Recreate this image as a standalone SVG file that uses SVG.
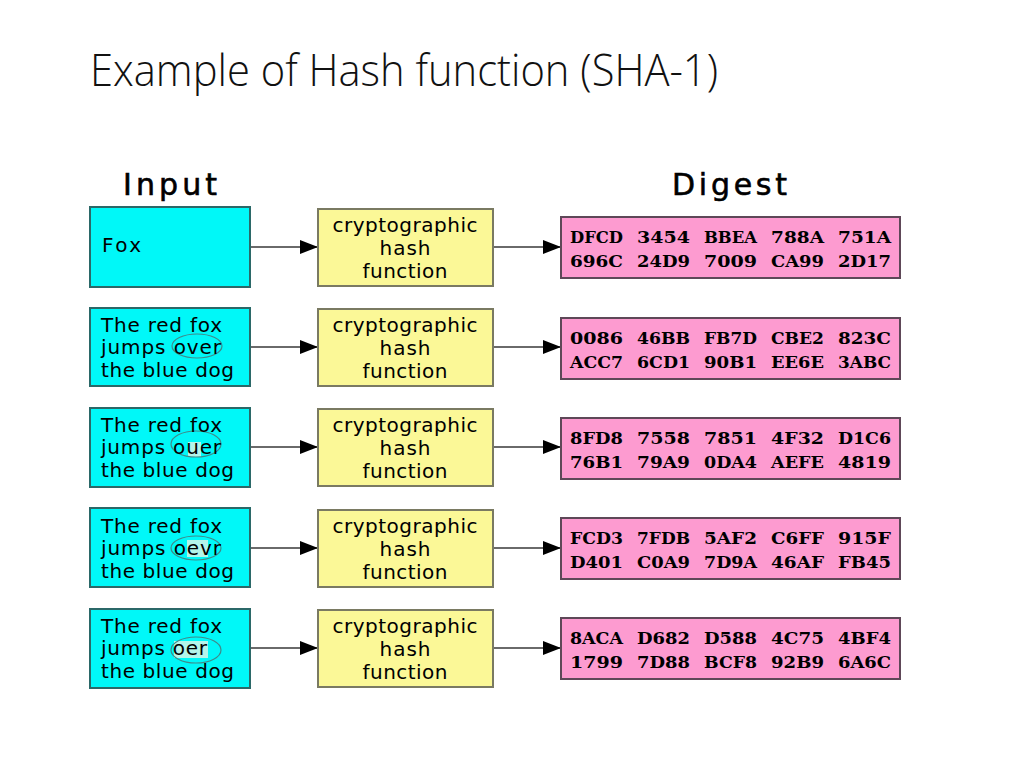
<svg xmlns="http://www.w3.org/2000/svg" width="1024" height="768" viewBox="0 0 1024 768">
<defs>
<style>
.title{font-family:"Open Sans","Liberation Sans",sans-serif;font-weight:300;font-size:44px;fill:#111}
.head{font-family:"DejaVu Sans","Open Sans",sans-serif;font-weight:normal;font-size:30px;fill:#000;stroke:#000;stroke-width:0.6}
.inbox{fill:#00f8f8;stroke:#2b6868;stroke-width:2}
.hashbox{fill:#fbf897;stroke:#7a7a62;stroke-width:2}
.digbox{fill:#fd9bd0;stroke:#5e4858;stroke-width:2}
.t{font-family:"DejaVu Sans","Open Sans",sans-serif;font-size:20px;fill:#000}
.c{text-anchor:middle}
.d{font-family:"DejaVu Serif","Liberation Serif",serif;font-weight:bold;font-size:17px;fill:#000}
.conn{stroke:#6a6a6a;stroke-width:2;fill:none}
.ell{fill:none;stroke:#3f8a8a;stroke-width:1.2}
.hl{fill:#b4f4ea}
</style>
<marker id="ah" viewBox="0 0 18 14" refX="18" refY="7" markerWidth="18" markerHeight="14" markerUnits="userSpaceOnUse" orient="auto">
<path d="M0,0 L18,7 L0,14 Z" fill="#000"/>
</marker>
</defs>
<rect width="1024" height="768" fill="#fff"/>
<text class="title" x="90" y="86" textLength="628" lengthAdjust="spacingAndGlyphs">Example of Hash function (SHA-1)</text>
<text class="head" x="123" y="195" textLength="94" lengthAdjust="spacing">Input</text>
<text class="head" x="672" y="195" textLength="115" lengthAdjust="spacing">Digest</text>

<g id="connectors">
<line class="conn" x1="251" y1="247" x2="318" y2="247" marker-end="url(#ah)"/>
<line class="conn" x1="494" y1="247" x2="561" y2="247" marker-end="url(#ah)"/>
<line class="conn" x1="251" y1="347" x2="318" y2="347" marker-end="url(#ah)"/>
<line class="conn" x1="494" y1="347" x2="561" y2="347" marker-end="url(#ah)"/>
<line class="conn" x1="251" y1="447" x2="318" y2="447" marker-end="url(#ah)"/>
<line class="conn" x1="494" y1="447" x2="561" y2="447" marker-end="url(#ah)"/>
<line class="conn" x1="251" y1="548" x2="318" y2="548" marker-end="url(#ah)"/>
<line class="conn" x1="494" y1="548" x2="561" y2="548" marker-end="url(#ah)"/>
<line class="conn" x1="251" y1="648" x2="318" y2="648" marker-end="url(#ah)"/>
<line class="conn" x1="494" y1="648" x2="561" y2="648" marker-end="url(#ah)"/>
</g>

<!-- Row 1 -->
<g id="input1">
<rect class="inbox" x="90" y="207" width="160" height="80"/>
<text class="t" x="102" y="252" textLength="39" lengthAdjust="spacing">Fox</text>
</g>
<g id="hash1" transform="translate(0,247)">
<rect class="hashbox" x="318" y="-38" width="175" height="77"/>
<text class="t c" x="405" y="-15" textLength="145" lengthAdjust="spacing">cryptographic</text>
<text class="t c" x="405" y="8" textLength="51" lengthAdjust="spacing">hash</text>
<text class="t c" x="405" y="31" textLength="85" lengthAdjust="spacing">function</text>
</g>
<g id="digest1" transform="translate(0,247)">
<rect class="digbox" x="561" y="-30" width="339" height="61"/>
<text class="d" y="-4"><tspan x="570" textLength="53" lengthAdjust="spacingAndGlyphs">DFCD</tspan><tspan x="637" textLength="53" lengthAdjust="spacingAndGlyphs">3454</tspan><tspan x="704" textLength="53" lengthAdjust="spacingAndGlyphs">BBEA</tspan><tspan x="771" textLength="53" lengthAdjust="spacingAndGlyphs">788A</tspan><tspan x="838" textLength="53" lengthAdjust="spacingAndGlyphs">751A</tspan></text>
<text class="d" y="20"><tspan x="570" textLength="53" lengthAdjust="spacingAndGlyphs">696C</tspan><tspan x="637" textLength="53" lengthAdjust="spacingAndGlyphs">24D9</tspan><tspan x="704" textLength="53" lengthAdjust="spacingAndGlyphs">7009</tspan><tspan x="771" textLength="53" lengthAdjust="spacingAndGlyphs">CA99</tspan><tspan x="838" textLength="53" lengthAdjust="spacingAndGlyphs">2D17</tspan></text>
</g>

<!-- Row 2 -->
<g id="input2" transform="translate(0,347)">
<rect class="inbox" x="90" y="-39" width="160" height="78"/>
<ellipse class="ell" cx="197" cy="-1" rx="25" ry="12"/>
<text class="t" x="101" y="-15" textLength="121" lengthAdjust="spacing">The red fox</text>
<text class="t" x="101" y="7" textLength="120" lengthAdjust="spacing">jumps over</text>
<text class="t" x="101" y="30" textLength="133" lengthAdjust="spacing">the blue dog</text>
</g>
<g id="hash2" transform="translate(0,347)">
<rect class="hashbox" x="318" y="-38" width="175" height="77"/>
<text class="t c" x="405" y="-15" textLength="145" lengthAdjust="spacing">cryptographic</text>
<text class="t c" x="405" y="8" textLength="51" lengthAdjust="spacing">hash</text>
<text class="t c" x="405" y="31" textLength="85" lengthAdjust="spacing">function</text>
</g>
<g id="digest2" transform="translate(0,348)">
<rect class="digbox" x="561" y="-30" width="339" height="61"/>
<text class="d" y="-4"><tspan x="570" textLength="53" lengthAdjust="spacingAndGlyphs">0086</tspan><tspan x="637" textLength="53" lengthAdjust="spacingAndGlyphs">46BB</tspan><tspan x="704" textLength="53" lengthAdjust="spacingAndGlyphs">FB7D</tspan><tspan x="771" textLength="53" lengthAdjust="spacingAndGlyphs">CBE2</tspan><tspan x="838" textLength="53" lengthAdjust="spacingAndGlyphs">823C</tspan></text>
<text class="d" y="20"><tspan x="570" textLength="53" lengthAdjust="spacingAndGlyphs">ACC7</tspan><tspan x="637" textLength="53" lengthAdjust="spacingAndGlyphs">6CD1</tspan><tspan x="704" textLength="53" lengthAdjust="spacingAndGlyphs">90B1</tspan><tspan x="771" textLength="53" lengthAdjust="spacingAndGlyphs">EE6E</tspan><tspan x="838" textLength="53" lengthAdjust="spacingAndGlyphs">3ABC</tspan></text>
</g>

<!-- Row 3 -->
<g id="input3" transform="translate(0,447)">
<rect class="inbox" x="90" y="-39" width="160" height="79"/>
<rect class="hl" x="188" y="-5" width="13" height="15"/>
<ellipse class="ell" cx="196" cy="-3" rx="25" ry="13"/>
<text class="t" x="101" y="-15" textLength="121" lengthAdjust="spacing">The red fox</text>
<text class="t" x="101" y="7" textLength="120" lengthAdjust="spacing">jumps ouer</text>
<text class="t" x="101" y="30" textLength="133" lengthAdjust="spacing">the blue dog</text>
</g>
<g id="hash3" transform="translate(0,447)">
<rect class="hashbox" x="318" y="-38" width="175" height="77"/>
<text class="t c" x="405" y="-15" textLength="145" lengthAdjust="spacing">cryptographic</text>
<text class="t c" x="405" y="8" textLength="51" lengthAdjust="spacing">hash</text>
<text class="t c" x="405" y="31" textLength="85" lengthAdjust="spacing">function</text>
</g>
<g id="digest3" transform="translate(0,448)">
<rect class="digbox" x="561" y="-30" width="339" height="61"/>
<text class="d" y="-4"><tspan x="570" textLength="53" lengthAdjust="spacingAndGlyphs">8FD8</tspan><tspan x="637" textLength="53" lengthAdjust="spacingAndGlyphs">7558</tspan><tspan x="704" textLength="53" lengthAdjust="spacingAndGlyphs">7851</tspan><tspan x="771" textLength="53" lengthAdjust="spacingAndGlyphs">4F32</tspan><tspan x="838" textLength="53" lengthAdjust="spacingAndGlyphs">D1C6</tspan></text>
<text class="d" y="20"><tspan x="570" textLength="53" lengthAdjust="spacingAndGlyphs">76B1</tspan><tspan x="637" textLength="53" lengthAdjust="spacingAndGlyphs">79A9</tspan><tspan x="704" textLength="53" lengthAdjust="spacingAndGlyphs">0DA4</tspan><tspan x="771" textLength="53" lengthAdjust="spacingAndGlyphs">AEFE</tspan><tspan x="838" textLength="53" lengthAdjust="spacingAndGlyphs">4819</tspan></text>
</g>

<!-- Row 4 -->
<g id="input4" transform="translate(0,548)">
<rect class="inbox" x="90" y="-40" width="160" height="79"/>
<rect class="hl" x="187" y="-8" width="21" height="17"/>
<ellipse class="ell" cx="196" cy="0" rx="25" ry="12"/>
<text class="t" x="101" y="-15" textLength="121" lengthAdjust="spacing">The red fox</text>
<text class="t" x="101" y="7" textLength="120" lengthAdjust="spacing">jumps oevr</text>
<text class="t" x="101" y="30" textLength="133" lengthAdjust="spacing">the blue dog</text>
</g>
<g id="hash4" transform="translate(0,548)">
<rect class="hashbox" x="318" y="-38" width="175" height="77"/>
<text class="t c" x="405" y="-15" textLength="145" lengthAdjust="spacing">cryptographic</text>
<text class="t c" x="405" y="8" textLength="51" lengthAdjust="spacing">hash</text>
<text class="t c" x="405" y="31" textLength="85" lengthAdjust="spacing">function</text>
</g>
<g id="digest4" transform="translate(0,548)">
<rect class="digbox" x="561" y="-30" width="339" height="61"/>
<text class="d" y="-4"><tspan x="570" textLength="53" lengthAdjust="spacingAndGlyphs">FCD3</tspan><tspan x="637" textLength="53" lengthAdjust="spacingAndGlyphs">7FDB</tspan><tspan x="704" textLength="53" lengthAdjust="spacingAndGlyphs">5AF2</tspan><tspan x="771" textLength="53" lengthAdjust="spacingAndGlyphs">C6FF</tspan><tspan x="838" textLength="53" lengthAdjust="spacingAndGlyphs">915F</tspan></text>
<text class="d" y="20"><tspan x="570" textLength="53" lengthAdjust="spacingAndGlyphs">D401</tspan><tspan x="637" textLength="53" lengthAdjust="spacingAndGlyphs">C0A9</tspan><tspan x="704" textLength="53" lengthAdjust="spacingAndGlyphs">7D9A</tspan><tspan x="771" textLength="53" lengthAdjust="spacingAndGlyphs">46AF</tspan><tspan x="838" textLength="53" lengthAdjust="spacingAndGlyphs">FB45</tspan></text>
</g>

<!-- Row 5 -->
<g id="input5" transform="translate(0,648)">
<rect class="inbox" x="90" y="-39" width="160" height="79"/>
<rect class="hl" x="174" y="-7" width="34" height="17"/>
<ellipse class="ell" cx="196" cy="2" rx="25" ry="13"/>
<text class="t" x="101" y="-15" textLength="121" lengthAdjust="spacing">The red fox</text>
<text class="t" x="101" y="7" textLength="106" lengthAdjust="spacing">jumps oer</text>
<text class="t" x="101" y="30" textLength="133" lengthAdjust="spacing">the blue dog</text>
</g>
<g id="hash5" transform="translate(0,648)">
<rect class="hashbox" x="318" y="-38" width="175" height="77"/>
<text class="t c" x="405" y="-15" textLength="145" lengthAdjust="spacing">cryptographic</text>
<text class="t c" x="405" y="8" textLength="51" lengthAdjust="spacing">hash</text>
<text class="t c" x="405" y="31" textLength="85" lengthAdjust="spacing">function</text>
</g>
<g id="digest5" transform="translate(0,648)">
<rect class="digbox" x="561" y="-30" width="339" height="61"/>
<text class="d" y="-4"><tspan x="570" textLength="53" lengthAdjust="spacingAndGlyphs">8ACA</tspan><tspan x="637" textLength="53" lengthAdjust="spacingAndGlyphs">D682</tspan><tspan x="704" textLength="53" lengthAdjust="spacingAndGlyphs">D588</tspan><tspan x="771" textLength="53" lengthAdjust="spacingAndGlyphs">4C75</tspan><tspan x="838" textLength="53" lengthAdjust="spacingAndGlyphs">4BF4</tspan></text>
<text class="d" y="20"><tspan x="570" textLength="53" lengthAdjust="spacingAndGlyphs">1799</tspan><tspan x="637" textLength="53" lengthAdjust="spacingAndGlyphs">7D88</tspan><tspan x="704" textLength="53" lengthAdjust="spacingAndGlyphs">BCF8</tspan><tspan x="771" textLength="53" lengthAdjust="spacingAndGlyphs">92B9</tspan><tspan x="838" textLength="53" lengthAdjust="spacingAndGlyphs">6A6C</tspan></text>
</g>
</svg>
